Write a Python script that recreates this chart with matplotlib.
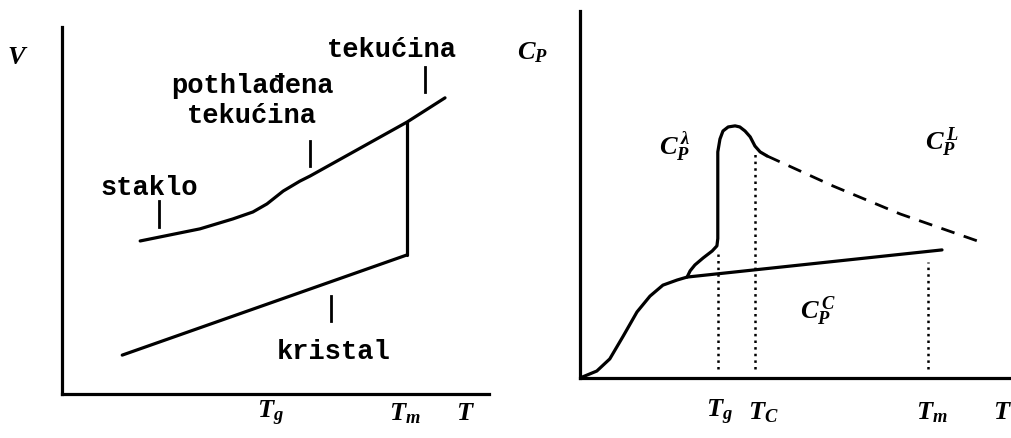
import matplotlib
matplotlib.use("Agg")
import matplotlib.pyplot as plt
import numpy as np

plt.rcParams['mathtext.fontset'] = 'custom'
plt.rcParams['mathtext.it'] = 'Liberation Serif:italic:bold'
plt.rcParams['mathtext.rm'] = 'Liberation Serif:bold'
plt.rcParams['mathtext.fallback'] = 'stix'

## left panel data (T, V in arbitrary units 0..100)
T_upper = [18.3, 32.3, 40.0, 44.7, 48.0, 51.8, 55.7, 58.1, 80.8, 89.7]
V_upper = [41.7, 45.0, 47.7, 49.6, 51.8, 55.3, 58.0, 59.4, 74.1, 80.7]
T_melt_left = [80.8, 80.8]
V_melt_left = [74.1, 37.9]
T_crystal = [14.1, 80.8]
V_crystal = [10.6, 37.9]

marks_T = [22.7, 58.1, 85.0, 63.0]
marks_V = [(45.5, 52.6), (62.1, 68.9), (82.3, 89.1), (19.9, 26.7)]
phase_labels = ["staklo", "pothlađena\ntekućina", "tekućina", "kristal"]
phase_pos = [(20.4, 56.4), (44.5, 80.0), (77.3, 94.0), (63.7, 11.7)]

left_ticks = [48.9, 80.3, 94.6]
left_ticklabels = [r"$T_g$", r"$T_m$", r"$T$"]

## right panel data (T, Cp)
T_base = [0.0, 3.9, 6.9, 10.0, 13.2, 16.2, 19.2, 22.5, 24.8, 83.8]
C_base = [0.0, 1.9, 5.2, 11.4, 18.0, 22.3, 25.3, 26.7, 27.5, 34.9]
T_peak = [24.8, 25.5, 26.6, 28.5, 30.6, 31.7, 31.9, 31.9, 31.9, 32.4, 33.1, 34.3,
          35.9, 37.0, 38.2, 39.4, 40.5, 41.7, 43.3]
C_peak = [27.5, 29.2, 30.8, 32.7, 34.6, 36.0, 38.0, 48.8, 61.6, 65.1, 67.3, 68.4,
          68.7, 68.4, 67.3, 65.7, 63.2, 61.6, 60.5]
T_liq = [43.3, 58.6, 74.1, 92.1]
C_liq = [60.5, 52.3, 44.7, 37.3]

T_g, T_c, T_m = 31.9, 40.5, 80.6
drop_top = [33.8, 61.6, 31.6]

cp_labels = [r"$C_P^{\,\lambda}$", r"$C_P^{\,L}$", r"$C_P^{\,C}$"]
cp_pos = [(22.0, 63.2), (83.8, 64.6), (55.1, 18.3)]

right_ticks = [32.2, 42.4, 81.5]
right_ticklabels = [r"$T_g$", r"$T_C$", r"$T_m$"]

fig = plt.figure(figsize=(10.12, 4.39), dpi=100)

mono = dict(family='Liberation Mono', fontsize=19.5, fontweight='bold', color='black')
ital = dict(fontsize=19, color='black')
line = dict(color='black', lw=2.3, solid_joinstyle='round', solid_capstyle='round')

## Left
ax1 = fig.add_axes([0.0613, 0.1002, 0.4219, 0.836])
ax1.plot(T_upper, V_upper, **line)
ax1.plot(T_melt_left, V_melt_left, **line)
ax1.plot(T_crystal, V_crystal, **line)
for t, (v0, v1) in zip(marks_T, marks_V):
    ax1.plot([t, t], [v0, v1], '-k', lw=2)
for lab, (t, v) in zip(phase_labels, phase_pos):
    ax1.text(t, v, lab, ha='center', va='center', linespacing=1.2, **mono)
for t, lab in zip(left_ticks, left_ticklabels):
    ax1.text(t, -5, lab, ha='center', va='center', clip_on=False, **ital)
ax1.text(-10.3, 92.1, r"$V$", ha='center', va='center', clip_on=False, **ital)

## Right
ax2 = fig.add_axes([0.5731, 0.1367, 0.4269, 0.836])
ax2.plot(T_base, C_base, **line)
ax2.plot(T_peak, C_peak, **line)
ax2.plot(T_liq, C_liq, '--k', lw=2, dashes=(5, 3.5))
for t, top in zip([T_g, T_c, T_m], drop_top):
    ax2.plot([t, t], [2.5, top], ':k', lw=1.8)
for lab, (t, c) in zip(cp_labels, cp_pos):
    ax2.text(t, c, lab, ha='center', va='center', **ital)
for t, lab in zip(right_ticks, right_ticklabels):
    ax2.text(t, -9, lab, ha='center', va='center', clip_on=False, **ital)
ax2.text(100, -9, r"$T$", ha='right', va='center', clip_on=False, **ital)
ax2.text(-11.1, 89.1, r"$C_P$", ha='center', va='center', clip_on=False, **ital)

for ax in (ax1, ax2):
    ax.set_xlim(0, 100)
    ax.set_ylim(0, 100)
    ax.spines['top'].set_visible(False)
    ax.spines['right'].set_visible(False)
    ax.spines['left'].set_linewidth(2.3)
    ax.spines['bottom'].set_linewidth(2.3)
    ax.set_xticks([])
    ax.set_yticks([])
    ax.patch.set_alpha(0)

plt.savefig("out.png", dpi=100)
